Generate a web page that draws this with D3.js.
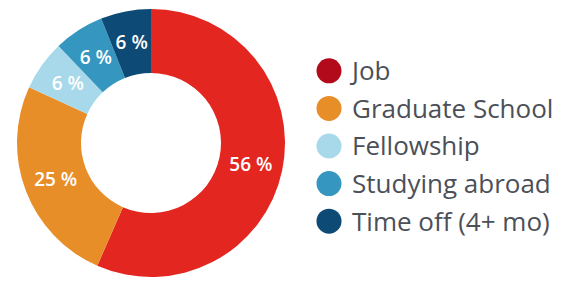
<!DOCTYPE html>
<meta charset="utf-8">
<title>Plans after graduation</title>
<script src="https://cdn.jsdelivr.net/npm/d3@7"></script>
<style>
body { margin:0; background:#fff; }
svg { display:block; }
.slice-label { fill:#fff; font-family:"Open Sans", sans-serif; font-weight:600; font-size:19px; }
.legend text { fill:#4b5058; font-family:"Open Sans", sans-serif; font-size:26px; }
</style>
<svg width="564" height="282"></svg>
<script>

var categories = ["Job", "Graduate School", "Fellowship", "Studying abroad", "Time off (4+ mo)"];
var values = [56, 25, 6, 6, 6];
var sliceColors = ["#e3261f", "#e88e28", "#a7d9ea", "#3597bf", "#0e4a76"];
var legendColors = ["#b20a1a", "#e88e28", "#a7d9ea", "#3597bf", "#0e4a76"];

var svg = d3.select("svg"),
    cx = 151, cy = 143,
    outerR = 134, innerR = 70;

var data = categories.map(function(c, i) { return {name: c, value: values[i]}; });

var pie = d3.pie().sort(null).value(function(d) { return d.value; });
var arc = d3.arc().innerRadius(innerR).outerRadius(outerR);

var g = svg.append("g")
    .attr("transform", "translate(" + cx + "," + cy + ")");

var arcs = pie(data);

g.selectAll("path")
  .data(arcs)
  .enter().append("path")
    .attr("d", arc)
    .attr("fill", function(d, i) { return sliceColors[i]; });

g.selectAll(".slice-label")
  .data(arcs)
  .enter().append("text")
    .attr("class", "slice-label")
    .attr("transform", function(d) { return "translate(" + arc.centroid(d) + ")"; })
    .attr("text-anchor", "middle")
    .attr("dy", "0.35em")
    .text(function(d) { return d.data.value + " %"; });

// legend
var y = d3.scaleBand().domain(categories).range([52, 240]);

var legend = svg.append("g").attr("class", "legend")
  .selectAll("g")
  .data(categories)
  .enter().append("g")
    .attr("transform", function(d) { return "translate(329," + (y(d) + y.bandwidth() / 2) + ")"; });

legend.append("circle")
    .attr("r", 12.5)
    .attr("fill", function(d, i) { return legendColors[i]; });

legend.append("text")
    .attr("x", 23)
    .attr("dy", "0.36em")
    .text(function(d) { return d; });

</script>
